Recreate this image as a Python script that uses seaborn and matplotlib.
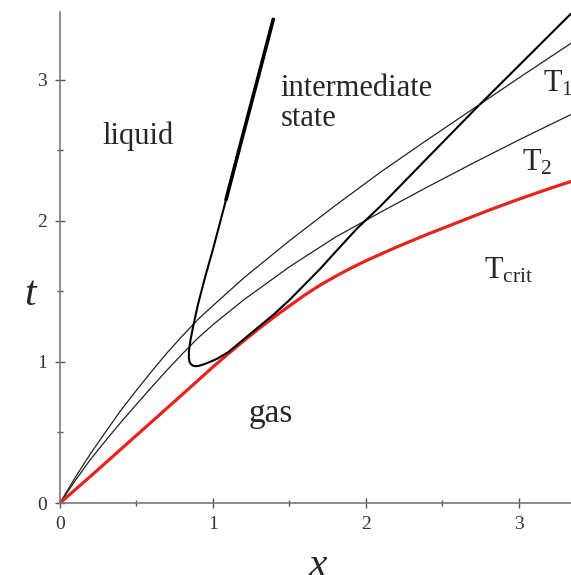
import numpy as np
import matplotlib
matplotlib.use("Agg")
import matplotlib.pyplot as plt
from matplotlib.ticker import MultipleLocator
import seaborn as sns

# Set style
sns.set_style("ticks")
plt.rcParams['font.family'] = ['Liberation Serif', 'DejaVu Serif']
plt.rcParams['mathtext.fontset'] = 'stix'

# Critical curve (red)
crit_x = [0, 0.2, 0.5, 0.8, 1.0, 1.1, 1.2, 1.3, 1.4, 1.5, 1.6, 1.7, 1.8, 1.9, 2.0,
          2.2, 2.4, 2.6, 2.8, 3.0, 3.2, 3.34]
crit_t = [0, 0.19, 0.48, 0.77, 0.965, 1.058, 1.149, 1.236, 1.319, 1.398, 1.475, 1.545, 1.607, 1.665, 1.718,
          1.815, 1.905, 1.99, 2.075, 2.155, 2.23, 2.28]

# Isotherm T1 (upper thin line)
t1_x = [0, 0.1, 0.2, 0.3, 0.4, 0.5, 0.6, 0.7, 0.8, 0.9, 1.0, 1.2, 1.5, 1.8, 2.1, 2.4, 2.7, 3.0, 3.34]
t1_t = [0, 0.182, 0.351, 0.507, 0.66, 0.80, 0.935, 1.065, 1.185, 1.30, 1.40, 1.595, 1.86, 2.11, 2.35,
        2.575, 2.795, 3.015, 3.26]

# Isotherm T2 (lower thin line)
t2_x = [0, 0.1, 0.2, 0.3, 0.4, 0.5, 0.6, 0.7, 0.8, 0.9, 1.0, 1.2, 1.5, 1.8, 2.1, 2.4, 2.7, 3.0, 3.34]
t2_t = [0, 0.16, 0.31, 0.445, 0.575, 0.70, 0.823, 0.943, 1.058, 1.168, 1.265, 1.44, 1.675, 1.885, 2.065,
        2.24, 2.41, 2.575, 2.755]

# Phase boundary loop (thick black), traced from the top of the left arm
loop_x = [1.394, 1.283, 1.169, 1.085, 1.0, 0.948, 0.9, 0.87, 0.852, 0.843, 0.842, 0.847, 0.855, 0.868,
          0.885, 0.905, 0.93, 0.955, 0.99, 1.03, 1.1, 1.2, 1.3, 1.4, 1.5, 1.6, 1.7, 1.8,
          1.94, 2.09, 2.4, 2.72, 3.03, 3.34]
loop_t = [3.43, 2.97, 2.50, 2.15, 1.80, 1.60, 1.40, 1.25, 1.15, 1.08, 1.03, 1.0, 0.985, 0.975,
          0.97, 0.972, 0.98, 0.99, 1.005, 1.025, 1.07, 1.16, 1.25, 1.34, 1.44, 1.55, 1.66, 1.78,
          1.945, 2.10, 2.445, 2.80, 3.135, 3.47]

fig = plt.figure(figsize=(5.71, 5.75), dpi=100)
ax = fig.add_axes([60 / 571, 72 / 575, 511 / 571, 491.3 / 575])

sns.lineplot(x=t1_x, y=t1_t, sort=False, estimator=None, color='#222222', linewidth=0.9, ax=ax)
sns.lineplot(x=t2_x, y=t2_t, sort=False, estimator=None, color='#222222', linewidth=0.9, ax=ax)
sns.lineplot(x=crit_x, y=crit_t, sort=False, estimator=None, color='#e8231c', linewidth=2.3, ax=ax)
sns.lineplot(x=loop_x, y=loop_t, sort=False, estimator=None, color='black', linewidth=1.5, ax=ax)
# upper part of the left arm is drawn heavier
sns.lineplot(x=loop_x[:4], y=loop_t[:4], sort=False, estimator=None, color='black', linewidth=2.6, ax=ax)

ax.set_xlim(0, 3.34)
ax.set_ylim(0, 3.484)

# Axes look
sns.despine(ax=ax)
for side in ['left', 'bottom']:
    ax.spines[side].set_color('#7a7a7a')
    ax.spines[side].set_linewidth(1.2)
ax.xaxis.set_major_locator(MultipleLocator(1))
ax.yaxis.set_major_locator(MultipleLocator(1))
ax.xaxis.set_minor_locator(MultipleLocator(0.5))
ax.yaxis.set_minor_locator(MultipleLocator(0.5))
ax.tick_params(which='major', direction='inout', length=7, width=1.0, color='#555555',
               labelsize=14, labelcolor='#333333', pad=6)
ax.tick_params(which='minor', direction='inout', length=5, width=1.0, color='#555555')

ax.set_xlabel('x', fontsize=30, fontstyle='italic')
ax.xaxis.set_label_coords(0.505, -0.128)
ax.xaxis.label.set_va('center')
ax.set_ylabel('t', fontsize=30, fontstyle='italic', rotation=0)
ax.yaxis.set_label_coords(-0.059, 0.423)
ax.yaxis.label.set_va('center')
ax.yaxis.label.set_ha('center')

# Region labels
fs = 22
ax.text(0.51, 2.60, 'liquid', fontsize=fs, ha='center', va='center')
ax.text(1.44, 2.83, 'intermediate\nstate', fontsize=fs, ha='left', va='center', linespacing=1.05)
ax.text(1.38, 0.63, 'gas', fontsize=24, ha='center', va='center')
ax.text(3.157, 2.97, r'$\mathregular{T_1}$', fontsize=fs, ha='left', va='center')
ax.text(3.02, 2.41, r'$\mathregular{T_2}$', fontsize=fs, ha='left', va='center')
ax.text(2.77, 1.65, r'$\mathregular{T_{crit}}$', fontsize=fs, ha='left', va='center')

fig.savefig('out.png', dpi=100, facecolor='white')
plt.close(fig)
